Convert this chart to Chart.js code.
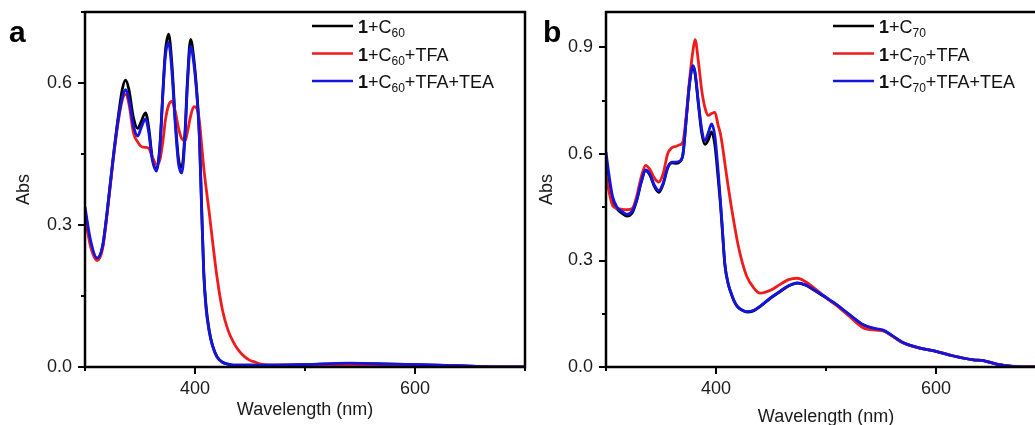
<!DOCTYPE html>
<html>
<head>
<meta charset="utf-8">
<script src="https://cdn.jsdelivr.net/npm/chart.js@4/dist/chart.umd.min.js"></script>
<style>
  html, body { margin: 0; padding: 0; background: #fff; }
  #wrap { position: relative; width: 1035px; height: 425px; overflow: hidden; }
  #chartA { position: absolute; left: 0; top: 0; }
  #chartB { position: absolute; left: 530px; top: 0; }
</style>
</head>
<body>
<div id="wrap">
  <canvas id="chartA" width="530" height="425"></canvas>
  <canvas id="chartB" width="530" height="432"></canvas>
</div>
<script>
// panel a : 1 + C60
const waveA = [300, 305, 311, 316, 320, 325, 330, 334, 337, 340,
  344, 348, 351, 355, 358, 361, 365, 368, 371, 373,
  376, 379, 382, 385, 388, 391, 393, 396, 399, 402,
  404, 406, 408, 410, 413, 416, 420, 425, 430, 435,
  440, 445, 450, 455, 460, 470, 500, 540, 580, 620,
  660, 700];
const blackA = [0.330, 0.262, 0.229, 0.255, 0.325, 0.430, 0.525, 0.588, 0.606, 0.585,
  0.527, 0.504, 0.518, 0.537, 0.505, 0.445, 0.418, 0.465, 0.590, 0.665,
  0.703, 0.640, 0.525, 0.440, 0.422, 0.500, 0.600, 0.692, 0.650, 0.570,
  0.490, 0.340, 0.200, 0.130, 0.076, 0.045, 0.022, 0.010, 0.006, 0.004,
  0.004, 0.004, 0.004, 0.004, 0.004, 0.004, 0.005, 0.007, 0.006, 0.004,
  0.001, 0.000];
const redA = [0.318, 0.255, 0.225, 0.250, 0.320, 0.425, 0.515, 0.565, 0.576, 0.555,
  0.495, 0.475, 0.466, 0.464, 0.462, 0.445, 0.428, 0.437, 0.480, 0.520,
  0.553, 0.561, 0.540, 0.505, 0.482, 0.478, 0.495, 0.530, 0.550, 0.545,
  0.520, 0.470, 0.420, 0.380, 0.325, 0.265, 0.190, 0.120, 0.078, 0.052,
  0.034, 0.022, 0.014, 0.010, 0.006, 0.004, 0.004, 0.005, 0.005, 0.003,
  0.001, 0.000];
const blueA = [0.338, 0.268, 0.230, 0.255, 0.325, 0.428, 0.520, 0.570, 0.586, 0.565,
  0.510, 0.488, 0.505, 0.524, 0.495, 0.440, 0.414, 0.460, 0.585, 0.655,
  0.685, 0.625, 0.515, 0.430, 0.410, 0.490, 0.590, 0.678, 0.640, 0.565,
  0.485, 0.335, 0.195, 0.125, 0.074, 0.044, 0.021, 0.010, 0.006, 0.004,
  0.004, 0.004, 0.004, 0.004, 0.004, 0.004, 0.005, 0.008, 0.006, 0.004,
  0.001, 0.000];
const namesA = ['1+C60', '1+C60+TFA', '1+C60+TFA+TEA'];

// panel b : 1 + C70
const waveB = [300, 303, 306, 310, 315, 319, 324, 328, 332, 336,
  340, 344, 348, 352, 356, 360, 364, 367, 370, 373,
  376, 379, 381, 384, 387, 390, 393, 396, 399, 402,
  404, 406, 408, 411, 414, 417, 420, 424, 428, 434,
  440, 450, 458, 466, 474, 481, 489, 500, 510, 520,
  534, 545, 552, 560, 570, 585, 600, 616, 634, 643,
  655, 670, 685, 700];
const blackB = [0.563, 0.505, 0.468, 0.445, 0.432, 0.425, 0.435, 0.470, 0.520, 0.553,
  0.540, 0.508, 0.492, 0.515, 0.560, 0.575, 0.574, 0.578, 0.600, 0.700,
  0.800, 0.848, 0.825, 0.740, 0.660, 0.627, 0.640, 0.662, 0.625, 0.530,
  0.460, 0.375, 0.290, 0.235, 0.205, 0.182, 0.168, 0.160, 0.155, 0.158,
  0.170, 0.195, 0.212, 0.228, 0.236, 0.231, 0.217, 0.195, 0.174, 0.150,
  0.118, 0.107, 0.103, 0.088, 0.068, 0.053, 0.044, 0.031, 0.020, 0.018,
  0.008, 0.002, 0.000, 0.000];
const redB = [0.545, 0.490, 0.455, 0.447, 0.444, 0.443, 0.447, 0.482, 0.535, 0.568,
  0.556, 0.532, 0.521, 0.545, 0.600, 0.618, 0.622, 0.626, 0.635, 0.710,
  0.810, 0.890, 0.922, 0.860, 0.780, 0.730, 0.709, 0.714, 0.717, 0.680,
  0.657, 0.620, 0.575, 0.510, 0.450, 0.395, 0.345, 0.293, 0.255, 0.224,
  0.208, 0.217, 0.232, 0.246, 0.250, 0.241, 0.223, 0.196, 0.172, 0.146,
  0.110, 0.104, 0.102, 0.088, 0.068, 0.053, 0.044, 0.031, 0.020, 0.018,
  0.008, 0.002, 0.000, 0.000];
const blueB = [0.605, 0.535, 0.480, 0.450, 0.437, 0.430, 0.440, 0.472, 0.522, 0.555,
  0.542, 0.512, 0.497, 0.518, 0.562, 0.577, 0.577, 0.580, 0.600, 0.700,
  0.800, 0.849, 0.830, 0.745, 0.670, 0.638, 0.660, 0.685, 0.650, 0.550,
  0.470, 0.380, 0.292, 0.236, 0.206, 0.183, 0.169, 0.160, 0.156, 0.159,
  0.171, 0.196, 0.213, 0.229, 0.237, 0.232, 0.218, 0.196, 0.175, 0.151,
  0.119, 0.108, 0.104, 0.089, 0.069, 0.054, 0.044, 0.031, 0.020, 0.018,
  0.008, 0.002, 0.000, 0.000];
const namesB = ['1+C70', '1+C70+TFA', '1+C70+TFA+TEA'];

const xTickLabels = [400, 600];
const yTickLabelsA = ['0.0', '0.3', '0.6'];
const yTickLabelsB = ['0.0', '0.3', '0.6', '0.9'];

const colors = ['#000000', '#ee1c1c', '#1414e0'];
const FONT = "'Liberation Sans', Arial, sans-serif";

function toPoints(xs, ys) {
  return xs.map((x, i) => ({ x: x, y: ys[i] }));
}

// frame + outward ticks (major where there is a label, short otherwise)
const framePlugin = {
  id: 'frame',
  afterDraw(chart) {
    const { ctx, chartArea: a } = chart;
    const xs = chart.scales.x, ys = chart.scales.y;
    ctx.save();
    ctx.strokeStyle = '#000';
    ctx.lineWidth = 2;
    xs.ticks.forEach((t, i) => {
      const px = Math.round(xs.getPixelForValue(t.value));
      const len = xs.ticks[i].label ? 7 : 4;
      ctx.beginPath();
      ctx.moveTo(px, a.bottom);
      ctx.lineTo(px, a.bottom + len);
      ctx.stroke();
    });
    ys.ticks.forEach((t, i) => {
      const py = Math.round(ys.getPixelForValue(t.value));
      const len = ys.ticks[i].label ? 7 : 4;
      ctx.beginPath();
      ctx.moveTo(a.left, py);
      ctx.lineTo(a.left - len, py);
      ctx.stroke();
    });
    ctx.lineWidth = 2.5;
    ctx.strokeRect(a.left, a.top, a.right - a.left, a.bottom - a.top);
    ctx.restore();
  }
};

// legend with bold "1" and subscript fullerene number
const legendPlugin = {
  id: 'richLegend',
  afterDraw(chart, args, opts) {
    const { ctx, chartArea: a } = chart;
    ctx.save();
    chart.data.datasets.forEach((ds, i) => {
      const y = a.top + 14 + i * 27.5;
      const x0 = a.left + 227;
      ctx.strokeStyle = ds.borderColor;
      ctx.lineWidth = 2.5;
      ctx.beginPath();
      ctx.moveTo(x0, y);
      ctx.lineTo(x0 + 41, y);
      ctx.stroke();
      const m = ds.label.match(/^(1)(\+C)(\d+)(.*)$/);
      let x = x0 + 46;
      ctx.fillStyle = '#111';
      ctx.textBaseline = 'alphabetic';
      ctx.font = 'bold 18px ' + FONT;
      ctx.fillText(m[1], x, y + 7);
      x += ctx.measureText(m[1]).width;
      ctx.font = '18px ' + FONT;
      ctx.fillText(m[2], x, y + 7);
      x += ctx.measureText(m[2]).width;
      ctx.font = '12px ' + FONT;
      ctx.fillText(m[3], x, y + 11);
      x += ctx.measureText(m[3]).width;
      ctx.font = '18px ' + FONT;
      ctx.fillText(m[4], x, y + 7);
    });
    // panel letter
    ctx.font = 'bold 30px ' + FONT;
    ctx.fillStyle = '#000';
    ctx.fillText(opts.letter, opts.letterX, 42);
    ctx.restore();
  }
};

function makeChart(id, waves, series, names, yMax, yLabels, cfg) {
  const order = [2, 1, 0];
  new Chart(document.getElementById(id), {
    type: 'line',
    data: {
      datasets: series.map((s, i) => ({
        label: names[i],
        data: toPoints(waves, s),
        borderColor: colors[i],
        borderWidth: 2.8,
        pointRadius: 0,
        cubicInterpolationMode: 'monotone',
        fill: false,
        order: order[i]
      }))
    },
    options: {
      responsive: false,
      animation: false,
      layout: { padding: { left: 0, top: 12, right: cfg.padRight, bottom: 0 } },
      plugins: {
        legend: { display: false },
        tooltip: { enabled: false },
        richLegend: { letter: cfg.letter, letterX: cfg.letterX }
      },
      scales: {
        x: {
          type: 'linear',
          min: 300,
          max: 700,
          afterFit: s => {
            s.height = cfg.xHeight;
            s.paddingLeft = 0;
            s.paddingRight = 0;
          },
          grid: { display: false, drawTicks: false },
          border: { display: false },
          ticks: {
            stepSize: 100,
            autoSkip: false,
            maxRotation: 0,
            padding: 11,
            color: '#1a1a1a',
            font: { family: FONT, size: 18 },
            callback: v => xTickLabels.includes(v) ? String(v) : ''
          },
          title: {
            display: true,
            text: 'Wavelength (nm)',
            color: '#1a1a1a',
            font: { family: FONT, size: 18 },
            padding: { top: 0, bottom: 4 }
          }
        },
        y: {
          min: 0,
          max: yMax,
          afterFit: s => {
            s.width = cfg.yWidth;
            s.paddingTop = 0;
            s.paddingBottom = 0;
          },
          grid: { display: false, drawTicks: false },
          border: { display: false },
          ticks: {
            stepSize: 0.15,
            includeBounds: false,
            autoSkip: false,
            padding: 13,
            color: '#1a1a1a',
            font: { family: FONT, size: 18 },
            callback: v => {
              const t = v.toFixed(1);
              return (yLabels.includes(t) && Math.abs(v - parseFloat(t)) < 1e-6) ? t : '';
            }
          },
          title: {
            display: true,
            text: 'Abs',
            color: '#1a1a1a',
            font: { family: FONT, size: 18 },
            padding: { top: cfg.yTitlePad, bottom: 0 }
          }
        }
      }
    },
    plugins: [framePlugin, legendPlugin]
  });
}

makeChart('chartA', waveA, [blackA, redA, blueA], namesA, 0.75, yTickLabelsA,
  { padRight: 5, xHeight: 58, yWidth: 85, yTitlePad: 13, letter: 'a', letterX: 9 });
makeChart('chartB', waveB, [blackB, redB, blueB], namesB, 1.0, yTickLabelsB,
  { padRight: 14, xHeight: 65, yWidth: 76, yTitlePad: 6, letter: 'b', letterX: 13 });
</script>
</body>
</html>
